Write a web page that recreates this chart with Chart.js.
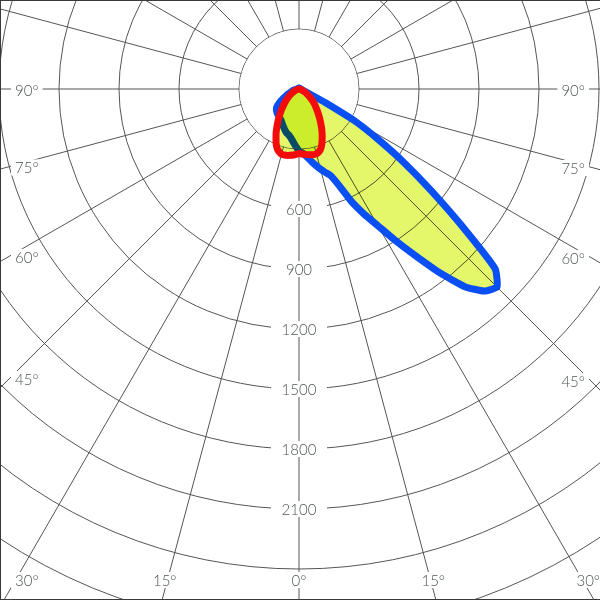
<!DOCTYPE html>
<html>
<head>
<meta charset="utf-8">
<script src="https://cdn.jsdelivr.net/npm/chart.js@4.4.1/dist/chart.umd.min.js"></script>
<style>
  html, body { margin: 0; padding: 0; background: #fff; }
  #frame { position: relative; width: 600px; height: 600px; overflow: hidden; background: #fff; }
  #plot { position: absolute; left: -301px; top: -511px; }
  #edge { position: absolute; left: 0; top: 0; width: 600px; height: 600px; box-sizing: border-box;
          border: 1px solid #3a3a3a; border-right: none; pointer-events: none; }
</style>
</head>
<body>
<div id="frame">
  <div id="plot"><canvas id="polar" width="1200" height="1200"></canvas></div>
  <div id="edge"></div>
</div>
<script>
// gamma angles (deg from nadir), same for every half plane
const gammaAngles = [0, 2.5, 5, 7.5, 10, 12.5, 15, 17.5, 20, 22.5, 25, 27.5, 30, 32.5, 35, 37.5, 40, 42.5, 45, 47.5,
    50, 52.5, 55, 57.5, 60, 62.5, 65, 67.5, 70, 72.5, 75, 77.5, 80, 82.5, 85, 87.5, 90, 92.5, 95, 97.5,
    100, 102.5, 105, 107.5, 110, 112.5, 115, 117.5, 120, 122.5, 125, 127.5, 130, 132.5, 135, 137.5, 140, 142.5, 145, 147.5,
    150, 152.5, 155, 157.5, 160, 162.5, 165, 167.5, 170, 172.5, 175, 177.5, 180];

// intensities (cd)
const c0Values = [310, 318, 330, 348, 370, 392, 415, 437, 460, 520,
    620, 705, 790, 900, 1020, 1160, 1290, 1370, 1400, 1330,
    1060, 830, 640, 470, 330, 150, 60, 35, 25, 20,
    17, 15, 13, 11, 10, 9, 8, 7, 6, 6,
    5, 5, 5, 5, 5, 5, 5, 5, 5, 5,
    5, 5, 5, 5, 5, 5, 5, 5, 5, 5,
    5, 5, 5, 5, 5, 5, 5, 5, 5, 5,
    5, 5, 5];
const c180Values = [310, 292, 275, 258, 245, 236, 230, 222, 213, 204,
    195, 187, 180, 175, 171, 168, 165, 162, 158, 153,
    147, 135, 120, 102, 86, 73, 62, 52, 44, 38,
    33, 28, 24, 20, 16, 13, 10, 8, 7, 6,
    5, 5, 5, 5, 5, 5, 5, 5, 5, 5,
    5, 5, 5, 5, 5, 5, 5, 5, 5, 5,
    5, 5, 5, 5, 5, 5, 5, 5, 5, 5,
    5, 5, 5];
const c90Values = [322, 325, 328, 331, 334, 336, 336, 330, 318, 298,
    274, 250, 226, 202, 180, 160, 142, 126, 112, 98,
    84, 72, 60, 50, 42, 34, 27, 21, 16, 12,
    9, 6, 4, 2, 0, 0, 0, 0, 0, 0,
    0, 0, 0, 0, 0, 0, 0, 0, 0, 0,
    0, 0, 0, 0, 0, 0, 0, 0, 0, 0,
    0, 0, 0, 0, 0, 0, 0, 0, 0, 0,
    0, 0, 0];
const c270Values = [322, 327, 331, 334, 337, 338, 338, 330, 318, 298,
    272, 248, 222, 198, 175, 155, 137, 120, 105, 92,
    80, 68, 57, 48, 40, 32, 26, 20, 15, 11,
    8, 6, 4, 2, 0, 0, 0, 0, 0, 0,
    0, 0, 0, 0, 0, 0, 0, 0, 0, 0,
    0, 0, 0, 0, 0, 0, 0, 0, 0, 0,
    0, 0, 0, 0, 0, 0, 0, 0, 0, 0,
    0, 0, 0];

const intensityTicks = [600, 900, 1200, 1500, 1800, 2100];
const angleTicks = [0, 15, 30, 45, 60, 75, 90];

const gridColor = '#555';
const textColor = '#4f5656';
const labelFont = '300 15px Lato, "DejaVu Sans", sans-serif';

// left half runs 0 -> 180 (C180 / C270), right half back 180 -> 0 (C0 / C90)
const labels = [];
const bluePlane = [];
const redPlane = [];
for (let i = 0; i < gammaAngles.length; i++) {
    labels.push(gammaAngles[i]);
    bluePlane.push(c180Values[i]);
    redPlane.push(c270Values[i]);
}
for (let i = gammaAngles.length - 2; i >= 1; i--) {
    labels.push(gammaAngles[i]);
    bluePlane.push(c0Values[i]);
    redPlane.push(c90Values[i]);
}
const step = 360 / labels.length;

// white centre, intensity labels and angle labels at the frame edge
const polarDecor = {
    id: 'polarDecor',
    beforeDatasetsDraw(chart) {
        const r = chart.scales.r;
        const ctx = chart.ctx;
        const cx = r.xCenter, cy = r.yCenter;

        ctx.save();
        const r0 = r.getDistanceFromCenterForValue(300);
        ctx.fillStyle = '#fff';
        ctx.beginPath();
        ctx.arc(cx, cy, r0 - 0.5, 0, Math.PI * 2);
        ctx.fill();

        ctx.font = labelFont;
        ctx.textBaseline = 'middle';
        ctx.textAlign = 'center';
        intensityTicks.forEach(v => {
            const y = cy + r.getDistanceFromCenterForValue(v);
            ctx.fillStyle = '#fff';
            ctx.fillRect(cx - 28, y - 8, 56, 16);
            ctx.fillStyle = textColor;
            ctx.fillText(String(v), cx, y + 1);
        });

        // visible window in canvas coords
        const box = chart.canvas.getBoundingClientRect();
        const frame = document.getElementById('frame').getBoundingClientRect();
        const vx = frame.left - box.left, vy = frame.top - box.top;
        const leftEdge = vx + 10, rightEdge = vx + 590, bottomEdge = vy + 590, rowY = vy + 580;

        angleTicks.forEach(g => {
            const idxs = g === 0 ? [0] : [g / step, labels.length - g / step];
            idxs.forEach(i => {
                const p = r.getPointPosition(i, 100);
                const dx = (p.x - cx) / 100, dy = (p.y - cy) / 100;
                let tx = Infinity, ty = Infinity;
                if (dx < -1e-6) tx = (leftEdge - cx) / dx;
                if (dx > 1e-6) tx = (rightEdge - cx) / dx;
                if (dy > 1e-6) ty = (bottomEdge - cy) / dy;
                const t = Math.min(tx, ty);
                const ax = cx + dx * t, ay = cy + dy * t;
                const text = g + '°';
                const w = ctx.measureText(text).width;
                let y, left;
                if (tx <= ty) {
                    y = Math.min(ay + 1, rowY);
                    left = dx < 0 ? ax + 5 : ax - 5 - w;
                } else {
                    y = rowY;
                    left = ax - w / 2;
                }
                ctx.fillStyle = '#fff';
                ctx.fillRect(left - 4, y - 8, w + 8, 16);
                ctx.fillStyle = textColor;
                ctx.textAlign = 'left';
                ctx.fillText(text, left, y + 1);
            });
        });
        ctx.restore();
        // fills are multiplied, lines are drawn normally
        ctx.globalCompositeOperation = 'multiply';
    },
    beforeDatasetDraw(chart) {
        chart.ctx.globalCompositeOperation = 'source-over';
    },
    afterDatasetDraw(chart) {
        chart.ctx.globalCompositeOperation = 'multiply';
    },
    afterDatasetsDraw(chart) {
        chart.ctx.globalCompositeOperation = 'source-over';
    }
};

new Chart(document.getElementById('polar'), {
    type: 'radar',
    data: {
        labels: labels,
        datasets: [{
            label: 'C90-C270',
            data: redPlane,
            borderColor: '#f20c0c',
            backgroundColor: '#e4f66a',
            borderWidth: 7,
            fill: true,
            pointRadius: 0,
            tension: 0.15,
            borderJoinStyle: 'round'
        }, {
            label: 'C0-C180',
            data: bluePlane,
            borderColor: '#0a4ff4',
            backgroundColor: '#e4f66a',
            borderWidth: 7,
            fill: true,
            pointRadius: 0,
            tension: 0.15,
            borderJoinStyle: 'round'
        }]
    },
    options: {
        responsive: false,
        animation: false,
        layout: { padding: 0 },
        plugins: { legend: { display: false }, tooltip: { enabled: false } },
        scales: {
            r: {
                min: 0,
                max: 3000,
                startAngle: 180,
                ticks: { display: false, stepSize: 300 },
                pointLabels: { display: false },
                grid: { circular: true, color: gridColor, lineWidth: 1 },
                angleLines: {
                    color: gridColor,
                    lineWidth: (c) => (c.index % Math.round(15 / step) === 0 ? 1 : 0)
                }
            }
        }
    },
    plugins: [polarDecor]
});
</script>
</body>
</html>
